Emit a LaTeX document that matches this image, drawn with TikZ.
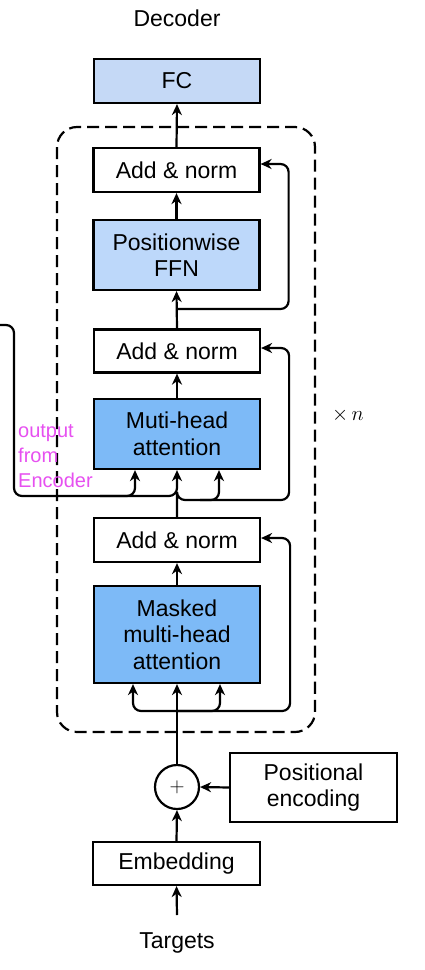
\documentclass[tikz,border=0pt]{standalone}
\usepackage{fontspec}
\setmainfont{Liberation Sans}
\usetikzlibrary{arrows.meta}
\definecolor{fcblue}{HTML}{C5D9F6}
\definecolor{ffnblue}{HTML}{BDD8FA}
\definecolor{attblue}{HTML}{7DBAF7}
\definecolor{encmag}{HTML}{E650F0}
\begin{document}
\begin{tikzpicture}[x=1pt,y=-1pt,
  box/.style={draw, line width=2.2pt, minimum width=166pt, inner sep=0pt, align=center, font=\fontsize{23}{26.5}\selectfont},
  arr/.style={line width=2.2pt, -{Stealth[length=11pt,width=10pt,inset=3.5pt]}},
  conn/.style={arr, rounded corners=8pt},
  lbl/.style={font=\fontsize{23}{26}\selectfont},
]
\useasboundingbox (0,0) rectangle (424,970);
% repeated block frame
\draw[line width=2.2pt, dash pattern=on 12pt off 6pt, rounded corners=20pt] (57,127) rectangle (315,732);

\node[lbl] (dec) at (177,18) {Decoder};
\node[box, fill=fcblue, minimum height=44pt] (fc) at (177,81) {FC};
\node[box, minimum height=44pt] (an1) at (176.5,170) {Add \& norm};
\node[box, fill=ffnblue, minimum height=70pt] (ffn) at (176.5,255) {Positionwise\\FFN};
\node[box, minimum height=43pt] (an2) at (177,351) {Add \& norm};
\node[box, fill=attblue, minimum height=70pt] (mha) at (177,434) {Muti-head\\attention};
\node[box, minimum height=44pt] (an3) at (177,540) {Add \& norm};
\node[box, fill=attblue, minimum height=97pt] (mmha) at (177,634.5) {Masked\\multi-head\\attention};
\node[draw, circle, line width=2.2pt, minimum size=44pt, inner sep=0pt, font=\fontsize{22}{24}\selectfont] (plus) at (177,787) {$+$};
\node[box, minimum width=167pt, minimum height=69pt] (pe) at (313.5,787.5) {Positional\\encoding};
\node[box, minimum width=167pt, minimum height=43pt] (emb) at (176.5,863.5) {Embedding};
\node[lbl, anchor=base] (tgt) at (177,948) {Targets};
\node[font=\fontsize{21}{24}\selectfont] (xn) at (348,415) {$\times\, n$};
\node[anchor=north west, inner sep=0pt, align=left, text=encmag, font=\fontsize{20}{25}\selectfont] (enc) at (18,424) {output\\from\\Encoder};

% coordinates
\coordinate (tin) at (177,915);
\coordinate (encin) at (0,325);
\coordinate (ek) at (100,496);
\coordinate (qk) at (177,500);
\coordinate (qb) at (200,500);
\coordinate (m1) at (177,711);
\coordinate (r1) at (177,309);

% connectors
\draw[arr] (tin) -- (emb.south);
\draw[arr] (emb.north) -- (plus.south);
\draw[arr] (pe.west) -- (plus.east);
\draw[arr] (plus.north) -- (mmha.south);
\draw[conn] (m1) -| ([xshift=-44pt]mmha.south);
\draw[conn] (m1) -| ([xshift=43pt]mmha.south);
\draw[conn] (m1) -| ([xshift=29pt,yshift=2pt]an3.east) -- ([yshift=2pt]an3.east);
\draw[arr] (mmha.north) -- (an3.south);

\draw[conn] (an3.north) |- (qk) -| ([xshift=28pt,yshift=3pt]an2.east) -- ([yshift=3pt]an2.east);
\draw[conn] (qb) -| ([xshift=42pt]mha.south);
\draw[conn] (encin) -| (14,496) -| (mha.south);
\draw[conn] (ek) -| ([xshift=-42pt]mha.south);
\draw[arr] (mha.north) -- (an2.south);

\draw[arr] (an2.north) -- (ffn.south);
\draw[conn] (r1) -| ([xshift=28pt,yshift=6pt]an1.east) -- ([yshift=6pt]an1.east);
\draw[arr] (ffn.north) -- (an1.south);
\draw[arr] (an1.north) -- (fc.south);
\end{tikzpicture}
\end{document}
